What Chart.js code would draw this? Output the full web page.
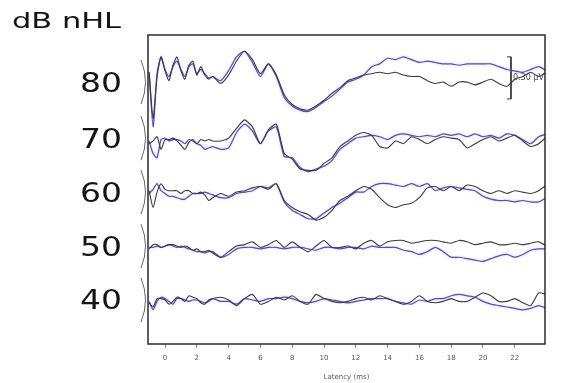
<!DOCTYPE html>
<html><head><meta charset="utf-8">
<script src="https://cdn.jsdelivr.net/npm/chart.js@4.4.1/dist/chart.umd.min.js"></script>
<style>html,body{margin:0;padding:0;background:#fff}#wrap{width:585px;height:383px;position:relative}</style>
</head><body><div id="wrap"><canvas id="c" width="585" height="383"></canvas></div>
<script>
// Latency samples (ms)
const latencyMs = [-1,-0.75,-0.5,-0.25,0,0.25,0.5,0.75,1,1.25,1.5,1.75,2,2.25,2.5,2.75,3,
  3.5,4,4.5,5,5.5,6,6.5,7,7.5,8,
  8.5,9,9.5,10,10.5,11,11.5,12,12.5,13,
  13.5,14,14.5,15,15.5,16,16.5,17,17.5,18,
  18.5,19,19.5,20,20.5,21,21.5,22,22.5,23,
  23.5,24];
const levels = ['80','70','60','50','40'];
const levelOffsetUv = [0, -0.40, -0.785, -1.17, -1.555];
const xTicks = [0,2,4,6,8,10,12,14,16,18,20,22];
const scaleBarUv = 0.30;
const scaleBarAtMs = 21.76;
const scaleBarBaseUv = -0.12;

// Amplitudes (µV) relative to each level's baseline — replicate 1 (grey) and replicate 2 (blue)
const gray80 = [0.07,-0.26,0.04,0.18,0.08,0.01,0.12,0.18,0.08,0.02,0.12,0.15,0.05,0.11,0.05,0.02,0.04,
  -0.01,0.05,0.15,0.22,0.16,0.06,0.13,0.05,-0.09,-0.16,
  -0.19,-0.20,-0.17,-0.13,-0.08,-0.04,0.01,0.03,0.05,0.06,
  0.07,0.06,0.07,0.05,0.04,0.04,0.01,-0.01,0.00,-0.03,
  0.00,0.00,-0.02,0.00,0.02,-0.01,-0.03,0.02,0.04,0.07,
  0.04,0.07];
const blue80 = [0.07,-0.32,0.06,0.18,0.09,0.04,0.11,0.15,0.09,0.04,0.11,0.13,0.06,0.09,0.06,0.03,0.04,
  0.01,0.08,0.18,0.22,0.14,0.04,0.13,0.04,-0.11,-0.17,
  -0.20,-0.21,-0.18,-0.14,-0.10,-0.05,0.00,0.02,0.05,0.11,
  0.13,0.17,0.16,0.18,0.16,0.14,0.15,0.14,0.13,0.13,
  0.12,0.13,0.13,0.13,0.13,0.11,0.09,0.08,0.07,0.09,
  0.11,0.08];
const gray70 = [-0.04,-0.02,0.01,-0.08,-0.01,-0.01,0,-0.02,-0.05,-0.08,-0.03,-0.01,-0.04,-0.01,-0.02,-0.01,-0.02,
  -0.02,0.00,0.07,0.13,0.08,-0.04,0.06,0.10,-0.11,-0.15,
  -0.22,-0.23,-0.23,-0.18,-0.14,-0.06,-0.02,0.02,0.04,0.02,
  -0.06,-0.07,-0.02,-0.04,0.01,-0.01,-0.04,-0.01,0.01,0.00,
  -0.01,-0.07,-0.04,-0.01,0.01,-0.02,0.00,0.02,-0.02,-0.06,
  -0.04,0.01];
const blue70 = [-0.02,-0.11,-0.14,-0.01,0,-0.02,-0.01,-0.01,-0.02,-0.04,-0.01,-0.02,-0.04,-0.05,-0.08,-0.07,-0.06,
  -0.08,-0.07,0.04,0.10,0.05,-0.04,0.05,0.08,-0.13,-0.14,
  -0.21,-0.24,-0.22,-0.20,-0.16,-0.08,-0.04,0.00,0.01,0.02,
  0.01,-0.01,0.02,0.03,0.02,0.01,0.02,0.01,0.03,0.02,
  0.03,0.01,0.03,0.01,0.02,0.00,0.03,0.02,-0.01,-0.04,
  0.01,0.03];
const gray60 = [0.01,-0.11,0,0.06,0.02,0.01,0.01,0.01,-0.01,0.01,0.01,-0.01,-0.01,0,-0.02,-0.06,-0.04,
  -0.01,-0.03,0,0.01,0.03,0.04,0.02,0.06,-0.06,-0.11,
  -0.14,-0.16,-0.20,-0.18,-0.13,-0.06,-0.03,0.01,0.04,0.02,
  -0.04,-0.09,-0.11,-0.09,-0.08,-0.04,0.03,0.04,0.01,0.04,
  0.01,0.05,0.04,0.01,-0.01,0.01,-0.01,0.01,0,-0.01,
  0.01,0.05];
const blue60 = [-0.01,0.02,0.06,0.01,-0.01,-0.03,-0.03,-0.04,-0.05,-0.05,-0.03,-0.01,-0.01,-0.01,0,-0.01,-0.02,
  -0.04,-0.04,-0.01,0,0.01,0.04,0.03,0.06,-0.07,-0.13,
  -0.16,-0.19,-0.19,-0.15,-0.11,-0.08,-0.04,0,0,0.04,
  0.06,0.06,0.05,0.04,0.06,0.04,0.06,0.01,0.03,0.04,
  0.03,0.02,0.01,-0.03,-0.05,-0.06,-0.06,-0.07,-0.06,-0.07,
  -0.07,-0.04];
const gray50 = [-0.02,0.01,0.01,-0.01,0,0.01,0.01,0,-0.01,0,-0.01,-0.03,-0.02,-0.04,-0.04,-0.03,-0.05,
  -0.08,-0.04,0,0.01,0.03,-0.01,0.01,0.04,-0.01,0.03,
  -0.01,-0.04,0,0.04,-0.01,-0.01,0,-0.02,0.02,0.04,
  0,0.03,0.04,0.04,0.02,0.03,0.04,0.04,0.03,0.02,
  0.04,0.03,0.01,0.02,0.03,0.01,0.01,0.02,0.01,0.02,
  0.03,0];
const blue50 = [-0.01,-0.01,0,-0.01,0,0.01,0,-0.01,0,-0.01,-0.02,-0.03,-0.04,-0.04,-0.05,-0.04,-0.04,
  -0.08,-0.06,-0.02,-0.01,-0.01,-0.02,-0.01,-0.01,-0.02,-0.01,
  -0.01,-0.02,-0.03,-0.01,-0.01,-0.02,-0.01,-0.01,-0.02,0,
  -0.01,-0.01,-0.01,-0.03,-0.04,-0.06,-0.04,-0.01,-0.04,-0.08,
  -0.08,-0.09,-0.10,-0.11,-0.09,-0.07,-0.06,-0.08,-0.06,-0.03,
  -0.02,-0.02];
const gray40 = [-0.02,-0.05,0.01,0.01,0,-0.03,-0.01,0.02,0.01,-0.01,0.03,0.02,0.01,-0.02,-0.03,0,0.01,
  0.02,0,-0.04,0.01,0.04,-0.03,-0.01,0.02,0,0.03,
  -0.01,-0.03,0.04,0.01,-0.01,-0.02,-0.01,0.01,0.02,0,
  0.03,0.01,-0.01,-0.03,-0.01,0.03,-0.01,-0.02,-0.01,0.01,
  -0.01,-0.01,0.02,0.05,0.03,-0.01,-0.01,0.01,-0.02,-0.04,
  0.05,0.04];
const blue40 = [-0.01,-0.07,-0.01,0.02,0.01,-0.01,-0.03,0.01,0.01,0,-0.01,0,0,-0.01,-0.02,-0.01,0.01,
  -0.01,-0.01,-0.03,0.01,0,-0.01,0.01,0.01,0.02,0.01,
  -0.01,-0.02,-0.01,0.01,0,-0.01,-0.02,-0.01,0,0.01,
  0.01,0.01,-0.01,-0.02,-0.03,0,-0.01,0.01,0.01,0.03,
  0.04,0.03,0.02,-0.01,-0.03,-0.04,-0.05,-0.06,-0.07,-0.06,
  -0.04,-0.06];

const grayRuns = [gray80, gray70, gray60, gray50, gray40];
const blueRuns = [blue80, blue70, blue60, blue50, blue40];

const GRAY = '#3a3a3a';
const BLUE = '#5546cf';

function toPoints(amps, offset) {
  return latencyMs.map((x, k) => ({ x: x, y: offset + amps[k] }));
}

const datasets = [];
levels.forEach((lvl, i) => {
  datasets.push({ label: lvl + ' dB rep 1', data: toPoints(grayRuns[i], levelOffsetUv[i]),
    borderColor: GRAY, borderWidth: 1.1, pointRadius: 0, tension: 0.2, fill: false });
});
levels.forEach((lvl, i) => {
  datasets.push({ label: lvl + ' dB rep 2', data: toPoints(blueRuns[i], levelOffsetUv[i]), halo: true,
    borderColor: BLUE, borderWidth: 1.2, pointRadius: 0, tension: 0.2, fill: false });
});
datasets.push({ label: 'scale', data: [
    { x: scaleBarAtMs - 0.25, y: scaleBarBaseUv + scaleBarUv },
    { x: scaleBarAtMs, y: scaleBarBaseUv + scaleBarUv },
    { x: scaleBarAtMs, y: scaleBarBaseUv },
    { x: scaleBarAtMs - 0.25, y: scaleBarBaseUv }],
  borderColor: '#333', borderWidth: 1, pointRadius: 0, tension: 0, fill: false });

const haloPlugin = {
  id: 'halo',
  beforeDatasetDraw(chart, args) {
    const ds = chart.data.datasets[args.index];
    chart.ctx.save();
    if (ds.halo) { chart.ctx.shadowColor = 'rgba(150,135,240,0.45)'; chart.ctx.shadowBlur = 2.5; }
  },
  afterDatasetDraw(chart) { chart.ctx.restore(); }
};

const decor = {
  id: 'decor',
  afterDraw(chart) {
    const { ctx, chartArea: a, scales: { x, y } } = chart;
    ctx.save();
    ctx.strokeStyle = '#2b2b2b'; ctx.lineWidth = 1.5;
    ctx.strokeRect(a.left, a.top, a.right - a.left, a.bottom - a.top);
    // brackets
    ctx.strokeStyle = '#666'; ctx.lineWidth = 1;
    levelOffsetUv.forEach(o => {
      const py = y.getPixelForValue(o);
      const x0 = a.left - 7;
      ctx.beginPath(); ctx.moveTo(x0, py - 22); ctx.quadraticCurveTo(x0 + 9, py, x0, py + 22); ctx.stroke();
    });
    // level labels
    ctx.fillStyle = '#141414'; ctx.textAlign = 'right'; ctx.textBaseline = 'alphabetic';
    levels.forEach((l, i) => {
      const py = y.getPixelForValue(levelOffsetUv[i]);
      ctx.save(); ctx.translate(a.left - 26, py + 9.5); ctx.scale(1.27, 1);
      ctx.font = '26px "DejaVu Sans"'; ctx.fillText(l, 0, 0); ctx.restore();
    });
    // unit header
    ctx.save(); ctx.textAlign = 'left'; ctx.translate(12, 28); ctx.scale(1.45, 1);
    ctx.font = '21px "DejaVu Sans"'; ctx.fillText('dB nHL', 0, 0); ctx.restore();
    // scale bar label
    const sx = x.getPixelForValue(scaleBarAtMs) + 2;
    const sy = y.getPixelForValue(scaleBarBaseUv + scaleBarUv / 2);
    ctx.fillStyle = '#444'; ctx.textAlign = 'left'; ctx.textBaseline = 'middle';
    ctx.font = '8px "DejaVu Sans"'; ctx.fillText(scaleBarUv.toFixed(2) + ' µV', sx, sy);
    ctx.restore();
  }
};

new Chart(document.getElementById('c'), {
  type: 'line',
  data: { datasets },
  options: {
    responsive: false, animation: false, devicePixelRatio: 1,
    layout: { padding: { left: 148, right: 40, top: 35, bottom: 1.2 } },
    plugins: { legend: { display: false }, tooltip: { enabled: false }, title: { display: false } },
    scales: {
      x: {
        type: 'linear', min: -1.07, max: 23.9,
        afterBuildTicks: s => { s.ticks = xTicks.map(v => ({ value: v })); },
        grid: { display: true, drawOnChartArea: false, drawTicks: true, tickLength: 4, color: '#888' },
        border: { display: false },
        ticks: { padding: 6, autoSkip: false, maxRotation: 0, color: '#555', font: { size: 7, family: 'DejaVu Sans' } },
        title: { display: true, text: 'Latency (ms)', color: '#555', font: { size: 7, family: 'DejaVu Sans' }, padding: { top: 5, bottom: 0 } }
      },
      y: { display: false, min: -1.869, max: 0.336 }
    }
  },
  plugins: [haloPlugin, decor]
});
</script></body></html>
